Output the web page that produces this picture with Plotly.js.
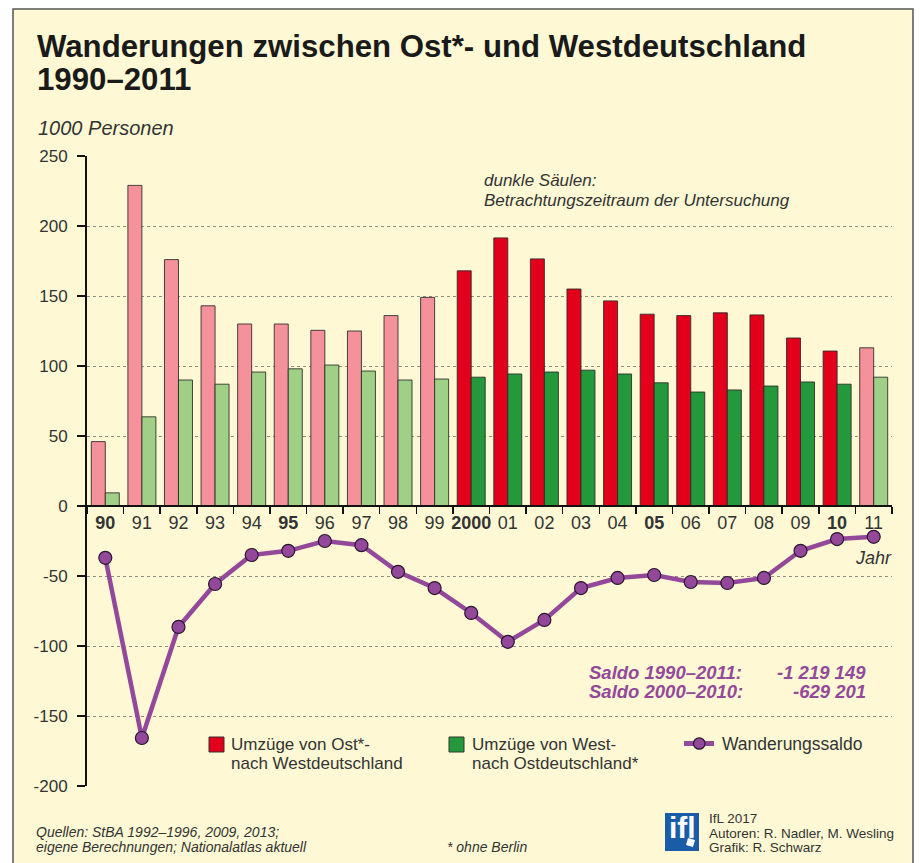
<!DOCTYPE html>
<html>
<head>
<meta charset="utf-8">
<script src="https://cdn.plot.ly/plotly-3.0.1.min.js"></script>
<style>
  html, body { margin: 0; padding: 0; background: #ffffff; }
  #chart { width: 920px; height: 863px; }
</style>
</head>
<body>
<div id="chart"></div>
<script>
// ---- data ----
const categories = ["90","91","92","93","94","95","96","97","98","99","2000","01","02","03","04","05","06","07","08","09","10","11"];
const tickLabels = ["<b>90</b>","91","92","93","94","<b>95</b>","96","97","98","99","<b>2000</b>","01","02","03","04","<b>05</b>","06","07","08","09","<b>10</b>","11"];
const studyPeriod = ["2000","01","02","03","04","05","06","07","08","09","10"];
const ostNachWest = [46, 229, 176, 143, 130, 130, 125.5, 125, 136, 149, 168, 191.5, 176.5, 155, 146.5, 137, 136, 138, 136.5, 120, 110.7, 113];
const westNachOst = [9.4, 63.7, 90, 87, 95.7, 98, 100.7, 96.4, 90, 90.7, 92, 94.3, 95.7, 97, 94.3, 88, 81.4, 82.9, 85.7, 88.6, 87, 92];
const saldo = [-37, -165.7, -86.4, -55.7, -35, -32, -25, -28, -47, -58.6, -76.4, -97, -81.4, -58.6, -51.4, -49.3, -54.3, -55, -51.4, -32, -23.6, -22];
const yTickVals = [-200, -150, -100, -50, 0, 50, 100, 150, 200, 250];
const yTickText = ["-200", "-150", "-100", "-50", "0", "50", "100", "150", "200", "250"];

// ---- styles ----
const FONT = "Liberation Sans, Arial, Helvetica, sans-serif";
const TXT = "#333333";
const RED_D = "#E2001A", RED_L = "#F4919A";
const GRN_D = "#24993B", GRN_L = "#A0CF86";
const PURPLE = "#93489A";
const BG = "#FEF9D4";

const isStudy = c => studyPeriod.indexOf(c) >= 0;
const redColors = categories.map(c => isStudy(c) ? RED_D : RED_L);
const greenColors = categories.map(c => isStudy(c) ? GRN_D : GRN_L);

// plot area in pixels
const L = 87, R = 892, T = 156, B = 786;
const px = x => (x - L) / (R - L);
const py = y => (B - y) / (B - T);

const traces = [
  { type: "bar", x: categories, y: ostNachWest, name: "Umzüge von Ost*- nach Westdeutschland",
    marker: { color: redColors, line: { color: "rgba(40,40,40,0.85)", width: 1 } }, hoverinfo: "skip" },
  { type: "bar", x: categories, y: westNachOst, name: "Umzüge von West- nach Ostdeutschland*",
    marker: { color: greenColors, line: { color: "rgba(40,40,40,0.85)", width: 1 } }, hoverinfo: "skip" },
  { type: "scatter", mode: "lines+markers", x: categories, y: saldo, name: "Wanderungssaldo",
    line: { color: PURPLE, width: 4.5 },
    marker: { color: PURPLE, size: 13, line: { color: "#2a1630", width: 1.2 } },
    cliponaxis: false, hoverinfo: "skip" }
];

function ann(text, x, y, o) {
  o = o || {};
  return Object.assign({
    text: text, xref: "paper", yref: "paper", x: px(x), y: py(y),
    xanchor: "left", yanchor: "middle", showarrow: false,
    font: { family: FONT, size: o.size || 18, color: o.color || TXT }
  }, o.extra || {});
}

const annotations = [
  ann("<b>Wanderungen zwischen Ost*- und Westdeutschland</b>", 35, 47, { size: 31.2, color: "#1a1a1a" }),
  ann("<b>1990–2011</b>", 35, 80, { size: 31.2, color: "#1a1a1a" }),
  ann("<i>1000 Personen</i>", 36, 128, { size: 20 }),
  ann("<i>dunkle Säulen:</i>", 482, 181, { size: 17 }),
  ann("<i>Betrachtungszeitraum der Untersuchung</i>", 482, 200.5, { size: 17 }),
  ann("<i>Jahr</i>", 894, 558, { size: 18, extra: { xanchor: "right" } }),
  ann("<b><i>Saldo 1990–2011:</i></b>", 587, 672, { size: 18.5, color: PURPLE }),
  ann("<b><i>-1 219 149</i></b>", 868, 672, { size: 18.5, color: PURPLE, extra: { xanchor: "right" } }),
  ann("<b><i>Saldo 2000–2010:</i></b>", 587, 691, { size: 18.5, color: PURPLE }),
  ann("<b><i>-629 201</i></b>", 868, 691, { size: 18.5, color: PURPLE, extra: { xanchor: "right" } }),
  ann("Umzüge von Ost*-", 229, 744, { size: 17 }),
  ann("nach Westdeutschland", 229, 763.5, { size: 17 }),
  ann("Umzüge von West-", 470, 744, { size: 17 }),
  ann("nach Ostdeutschland*", 470, 763.5, { size: 17 }),
  ann("Wanderungssaldo", 720, 744, { size: 17.5 }),
  ann("<i>Quellen: StBA 1992–1996, 2009, 2013;</i>", 34, 832, { size: 14 }),
  ann("<i>eigene Berechnungen; Nationalatlas aktuell</i>", 34, 846.5, { size: 14 }),
  ann("<i>* ohne Berlin</i>", 445, 847, { size: 14 }),
  ann("IfL 2017", 707, 818, { size: 13.5 }),
  ann("Autoren: R. Nadler, M. Wesling", 707, 833, { size: 13.5 }),
  ann("Grafik: R. Schwarz", 707, 847.5, { size: 13.5 }),
  ann("<b>ifl</b>", 682, 827, { size: 30, color: "#ffffff", extra: { xanchor: "center" } })
];

function rect(x0, y0, x1, y1, fill, line, lw, layer) {
  return { type: "rect", xref: "paper", yref: "paper",
    x0: px(x0), x1: px(x1), y0: py(y1), y1: py(y0),
    fillcolor: fill, line: { color: line || "rgba(0,0,0,0)", width: lw || 0 }, layer: layer || "above" };
}

const shapes = [
  rect(13, 9, 913, 880, BG, "#555555", 1.5, "below"),
  rect(209, 737, 224, 752, RED_D, "#333", 1),
  rect(449, 737, 464, 752, GRN_D, "#333", 1),
  { type: "line", xref: "paper", yref: "paper", x0: px(684), x1: px(714), y0: py(743.5), y1: py(743.5),
    line: { color: PURPLE, width: 5 } },
  { type: "circle", xref: "paper", yref: "paper", x0: px(693.5), x1: px(705), y0: py(749.2), y1: py(737.8),
    fillcolor: PURPLE, line: { color: "#2a1630", width: 1.2 } },
  rect(665, 813, 699, 851, "#1B5CA8"),
  { type: "path", xref: "paper", yref: "paper",
    path: "M " + px(688) + " " + py(838) + " L " + px(695) + " " + py(840) + " L " + px(693) + " " + py(847) + " L " + px(686) + " " + py(845) + " Z",
    fillcolor: "#ffffff", line: { width: 0 } }
];

const layout = {
  width: 920, height: 863,
  margin: { l: L, r: 920 - R, t: T, b: 863 - B, pad: 0 },
  paper_bgcolor: "#ffffff", plot_bgcolor: "rgba(0,0,0,0)",
  showlegend: false,
  barmode: "group", bargap: 0.235, bargroupgap: 0,
  font: { family: FONT, color: TXT },
  xaxis: {
    type: "category", range: [-0.5, 21.5], anchor: "free", position: py(506),
    tickson: "boundaries", ticks: "outside", ticklen: 7, tickwidth: 1.5, tickcolor: "#111",
    showline: true, linecolor: "#111", linewidth: 2, showgrid: false, zeroline: false,
    tickmode: "array", tickvals: categories, ticktext: tickLabels, tickangle: 0,
    tickfont: { family: FONT, size: 18, color: TXT }, fixedrange: true
  },
  yaxis: {
    range: [-200, 250], tickmode: "array", tickvals: yTickVals, ticktext: yTickText,
    ticks: "outside", ticklen: 8, tickwidth: 1.5, tickcolor: "#111",
    showline: true, linecolor: "#111", linewidth: 2,
    showgrid: true, gridcolor: "#8f8f80", griddash: "dot", gridwidth: 1, zeroline: false,
    tickfont: { family: FONT, size: 17, color: TXT }, ticklabelstandoff: 6, fixedrange: true
  },
  annotations: annotations,
  shapes: shapes
};

Plotly.newPlot("chart", traces, layout, { displayModeBar: false, staticPlot: true });
</script>
</body>
</html>
